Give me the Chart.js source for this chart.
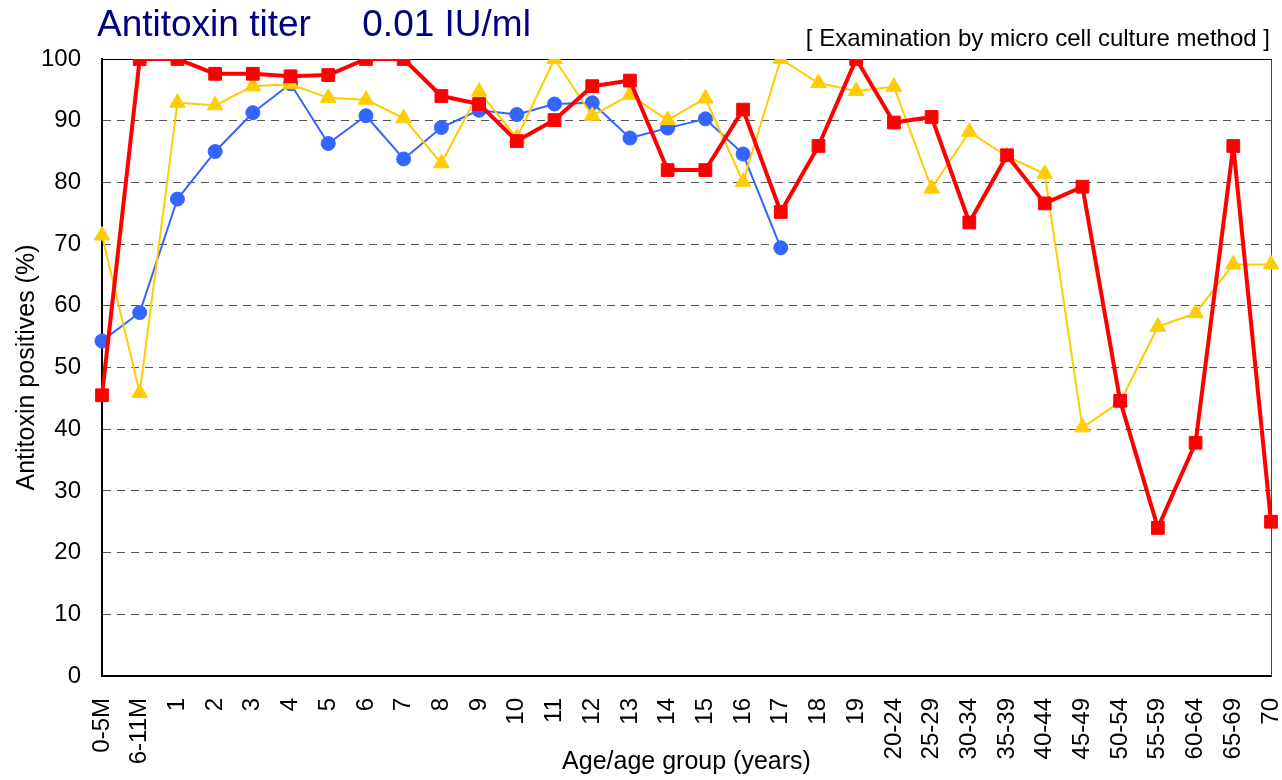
<!DOCTYPE html>
<html>
<head>
<meta charset="utf-8">
<title>Antitoxin titer 0.01 IU/ml</title>
<script src="https://cdn.jsdelivr.net/npm/chart.js@4"></script>
<style>
  html, body { margin: 0; padding: 0; background: #fff; }
  canvas { display: block; }
</style>
</head>
<body>
<canvas id="myChart" width="1282" height="780"></canvas>
<script>
// age groups on the x axis
var ageGroups = ['0-5M', '6-11M', '1', '2', '3', '4', '5', '6', '7', '8', '9', '10',
  '11', '12', '13', '14', '15', '16', '17', '18', '19', '20-24', '25-29', '30-34',
  '35-39', '40-44', '45-49', '50-54', '55-59', '60-64', '65-69', '70'];

// antitoxin positives (%) per series
var redSeries = [45.5, 100, 100, 97.6, 97.6, 97.2, 97.4, 100, 100, 94.0, 92.7, 86.7,
  90.1, 95.6, 96.5, 82.0, 82.0, 91.8, 75.2, 85.9, 100, 89.7, 90.6, 73.5,
  84.4, 76.6, 79.3, 44.6, 24.0, 37.8, 85.9, 25.0];
var yellowSeries = [71.4, 45.9, 92.9, 92.5, 95.6, 95.9, 93.7, 93.4, 90.4, 83.1, 94.7, 87.2,
  100, 90.8, 94.2, 90.1, 93.6, 80.1, 100, 96.1, 94.8, 95.5, 79.0, 88.2,
  84.2, 81.4, 40.3, 44.4, 56.6, 58.8, 66.7, 66.7];
var blueSeries = [54.3, 58.9, 77.3, 85.0, 91.3, 96.0, 86.3, 90.8, 83.8, 88.9, 91.7, 91.0,
  92.7, 92.9, 87.2, 88.8, 90.3, 84.6, 69.4, null, null, null, null, null,
  null, null, null, null, null, null, null, null];

var yTicks = [0, 10, 20, 30, 40, 50, 60, 70, 80, 90, 100];

var fontFamily = "'Liberation Sans', Arial, sans-serif";

// top and right edges of the plot frame
var framePlugin = {
  id: 'frame',
  beforeDatasetsDraw: function(chart) {
    var a = chart.chartArea;
    var c = chart.ctx;
    c.save();
    c.lineWidth = 1;
    c.strokeStyle = '#000';
    c.beginPath();
    c.moveTo(a.left, a.top + 0.5);
    c.lineTo(a.right, a.top + 0.5);
    c.stroke();
    c.strokeStyle = '#444';
    c.beginPath();
    c.moveTo(a.right + 0.5, a.top);
    c.lineTo(a.right + 0.5, a.bottom);
    c.stroke();
    c.restore();
  }
};

// heading texts
var headerPlugin = {
  id: 'header',
  afterDraw: function(chart) {
    var c = chart.ctx;
    c.save();
    c.textBaseline = 'alphabetic';
    c.fillStyle = '#000080';
    c.font = '37px ' + fontFamily;
    c.textAlign = 'left';
    c.fillText('Antitoxin titer     0.01 IU/ml', 97, 36);
    c.fillStyle = '#000';
    c.font = '24px ' + fontFamily;
    c.textAlign = 'right';
    c.fillText('[ Examination by micro cell culture method ]', 1270, 46);
    c.restore();
  }
};

var ctx = document.getElementById('myChart').getContext('2d');

var myChart = new Chart(ctx, {
  type: 'line',
  data: {
    labels: ageGroups,
    datasets: [{
      label: 'Series 1',
      data: redSeries,
      borderColor: '#ff0000',
      backgroundColor: '#ff0000',
      borderWidth: 4,
      borderJoinStyle: 'round',
      pointStyle: 'rect',
      pointRadius: 9,
      pointBorderWidth: 1,
      tension: 0
    }, {
      label: 'Series 2',
      data: yellowSeries,
      borderColor: '#ffcc00',
      backgroundColor: '#ffcc00',
      borderWidth: 2,
      borderJoinStyle: 'round',
      pointStyle: 'triangle',
      pointRadius: 9,
      pointBorderWidth: 1,
      tension: 0
    }, {
      label: 'Series 3',
      data: blueSeries,
      borderColor: '#3366ff',
      backgroundColor: '#3366ff',
      borderWidth: 2,
      borderJoinStyle: 'round',
      pointStyle: 'circle',
      pointRadius: 7,
      pointBorderWidth: 1,
      tension: 0
    }]
  },
  options: {
    responsive: false,
    animation: false,
    devicePixelRatio: 1,
    layout: {
      padding: { top: 59, left: 8, right: 11, bottom: 0 }
    },
    plugins: {
      legend: { display: false },
      title: { display: false },
      tooltip: { enabled: false }
    },
    scales: {
      x: {
        offset: false,
        grid: { display: false, drawTicks: false },
        border: { display: true, color: '#000', width: 2 },
        ticks: {
          autoSkip: false,
          minRotation: 90,
          maxRotation: 90,
          padding: 22,
          color: '#000',
          font: { family: fontFamily, size: 24 }
        },
        title: {
          display: true,
          text: 'Age/age group (years)',
          color: '#000',
          font: { family: fontFamily, size: 25 },
          padding: { top: 0, bottom: 3 }
        },
        afterFit: function(scale) {
          scale.height = 104;
          scale.paddingLeft = 0;
          scale.paddingRight = 0;
        }
      },
      y: {
        min: 0,
        max: 100,
        afterBuildTicks: function(scale) {
          scale.ticks = yTicks.map(function(v) { return { value: v }; });
        },
        grid: { color: '#555', lineWidth: 1, drawTicks: false },
        border: { display: true, color: '#000', width: 2, dash: [8, 6] },
        ticks: {
          padding: 21,
          color: '#000',
          font: { family: fontFamily, size: 24 }
        },
        title: {
          display: true,
          text: 'Antitoxin positives (%)',
          color: '#000',
          font: { family: fontFamily, size: 25 },
          padding: { top: 4, bottom: 4 }
        },
        afterFit: function(scale) {
          scale.width = 94;
          scale.paddingTop = 0;
          scale.paddingBottom = 0;
        }
      }
    }
  },
  plugins: [framePlugin, headerPlugin]
});
</script>
</body>
</html>
